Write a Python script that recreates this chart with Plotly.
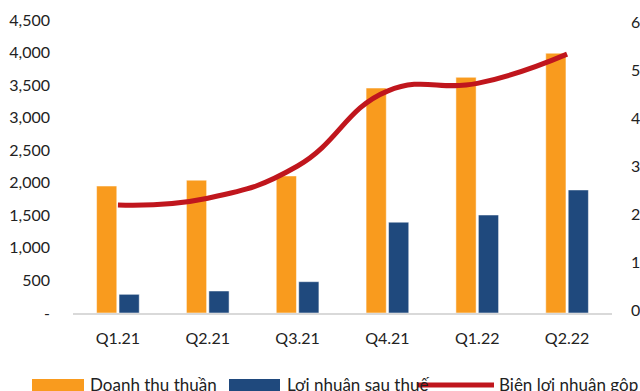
import plotly.graph_objects as go

quarters = ["Q1.21", "Q2.21", "Q3.21", "Q4.21", "Q1.22", "Q2.22"]
doanh_thu = [1950, 2040, 2105, 3455, 3620, 3990]
loi_nhuan = [287, 338, 481, 1395, 1505, 1890]
bien_ln_gop = [21.9, 23.3, 30.0, 45.6, 47.2, 53.3]

left_ticks = [0, 500, 1000, 1500, 2000, 2500, 3000, 3500, 4000, 4500]
left_text = ["-"] + [f"{v:,}" for v in left_ticks[1:]]
right_ticks = [0, 10, 20, 30, 40, 50, 60]

ORANGE = "#F99B1E"
BLUE = "#1F497D"
RED = "#C0161D"
FONT = "Lato"

fig = go.Figure()
fig.add_trace(go.Bar(x=quarters, y=doanh_thu, name="Doanh thu thuần",
                     marker=dict(color=ORANGE, line=dict(color="rgba(255,255,255,0.5)", width=1))))
fig.add_trace(go.Bar(x=quarters, y=loi_nhuan, name="Lợi nhuận sau thuế",
                     marker=dict(color=BLUE, line=dict(color="rgba(255,255,255,0.5)", width=1))))
fig.add_trace(go.Scatter(x=quarters, y=bien_ln_gop, name="Biên lợi nhuận gộp", yaxis="y2",
                         mode="lines", line=dict(color=RED, width=5, shape="spline", smoothing=1.3)))

L, R, T, B = 73, 28, 20, 78
W, H = 640, 391
pw, ph = W - L - R, H - T - B

def px(x):
    return (x - L) / pw

def py(y):
    return (H - B - y) / ph

shapes = [
    dict(type="rect", xref="paper", yref="paper", x0=px(32), x1=px(84), y0=py(396), y1=py(379),
         fillcolor=ORANGE, line=dict(width=0)),
    dict(type="rect", xref="paper", yref="paper", x0=px(229), x1=px(280), y0=py(396), y1=py(379),
         fillcolor=BLUE, line=dict(width=0)),
    dict(type="line", xref="paper", yref="paper", x0=px(418), x1=px(494), y0=py(385), y1=py(385),
         line=dict(color=RED, width=5)),
]
legend_items = [("Doanh thu thuần", 89), ("Lợi nhuận sau thuế", 286), ("Biên lợi nhuận gộp", 498)]
annotations = [
    dict(text=t, x=px(x0), y=py(373), xref="paper", yref="paper", xanchor="left", yanchor="top",
         showarrow=False, font=dict(family=FONT, size=17, color="#222222"), borderpad=0)
    for t, x0 in legend_items
]

fig.update_layout(
    width=W, height=H,
    margin=dict(l=L, r=R, t=T, b=B, autoexpand=False),
    paper_bgcolor="white", plot_bgcolor="white",
    font=dict(family=FONT, size=16, color="#222222"),
    barmode="group", bargap=0.5, bargroupgap=0.1,
    showlegend=False,
    shapes=shapes, annotations=annotations,
    xaxis=dict(showgrid=False, showline=True, linecolor="#D9D9D9", linewidth=2,
               ticks="", ticklabelstandoff=10, automargin=False),
    yaxis=dict(range=[0, 4500], tickvals=left_ticks, ticktext=left_text, showgrid=False,
               zeroline=False, showline=False, ticks="", ticklabelstandoff=22, automargin=False),
    yaxis2=dict(overlaying="y", side="right", range=[-0.6, 60.4], tickvals=right_ticks,
                ticksuffix="%", showgrid=False, zeroline=False, showline=False, ticks="",
                ticklabelstandoff=18, automargin=False),
)

fig.write_html("out.html")
